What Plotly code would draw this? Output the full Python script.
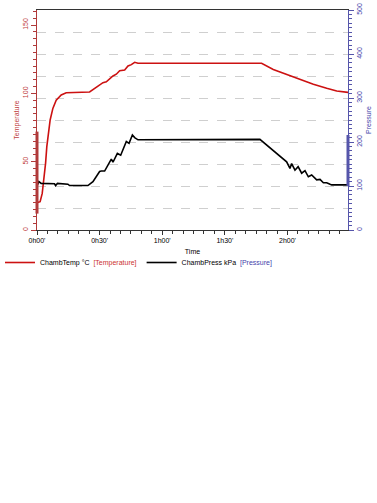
import plotly.graph_objects as go

# --- data (time in minutes) ---
temp_time = [0, 1.5, 2.5, 3.3, 4.1, 4.7, 5.5, 6.3, 7.6, 9.2, 11.6, 14.0, 25.2, 28.4,
             31.6, 33.2, 36.4, 38.0, 39.6, 42.0, 43.6, 45.2, 46.8, 48.4, 107.6, 113.2,
             119.6, 126.0, 132.4, 138.8, 143.6, 149.0]
temp_vals = [20, 20.7, 26.8, 36.6, 48.8, 61, 70.7, 80.5, 89, 95, 98.8, 100.4, 101, 104.4,
             107.8, 108.5, 112.7, 114, 116.5, 117, 120, 121, 122.7, 122, 122, 117.5,
             114, 110, 106.6, 103.7, 101.7, 100.7]

press_time = [0, 0.9, 2.0, 8.4, 8.9, 9.8, 14.8, 15.6, 24.4, 26.8, 30.0, 30.8, 32.4, 34.0,
              35.6, 36.4, 38.5, 40.1, 42.0, 42.8, 44.1, 45.7, 46.8, 48.4, 106.8, 119.6,
              121.2, 122.0, 123.6, 125.1, 126.8, 128.4, 130.0, 131.6, 134.0, 135.6, 137.2,
              138.8, 140.4, 141.2, 149.0]
press_vals = [100, 110, 106, 105, 101, 106, 104, 101, 101, 110, 133, 134, 134, 148,
              161, 154, 174, 170, 192, 201, 197, 216, 210, 205, 206, 155,
              140, 151, 136, 144, 129, 135, 121, 125, 114, 115, 107.5,
              107.5, 104, 102.5, 102.5]

x_tickvals = [0, 30, 60, 90, 120]
x_ticktext = ["0h00'", "0h30'", "1h00'", "1h30'", "2h00'"]

temp_range = [0, 161]
press_range = [0, 500]
temp_marker_range = [12, 72]

RED = "#cc1111"
RED_AX = "#b03a3a"
BLUE_AX = "#5555aa"
FONT = "Liberation Sans, Arial, sans-serif"

fig = go.Figure()
fig.add_trace(go.Scatter(
    x=temp_time, y=temp_vals, mode="lines", name="ChambTemp °C  <span style='color:#cc3333'>[Temperature]</span>",
    line=dict(color=RED, width=1.6), yaxis="y"))
fig.add_trace(go.Scatter(
    x=press_time, y=press_vals, mode="lines", name="ChambPress kPa  <span style='color:#4444aa'>[Pressure]</span>",
    line=dict(color="#000000", width=1.6), yaxis="y2"))
# helper trace for the dashed grid axis
fig.add_trace(go.Scatter(x=[None], y=[None], yaxis="y3", showlegend=False, hoverinfo="skip"))

# axis data-range markers
fig.add_shape(type="line", xref="paper", yref="y", x0=0, x1=0,
              y0=temp_marker_range[0], y1=temp_marker_range[1],
              line=dict(color=RED_AX, width=3))
fig.add_shape(type="line", xref="paper", yref="y2", x0=1, x1=1,
              y0=min(press_vals), y1=max(press_vals),
              line=dict(color=BLUE_AX, width=3))

fig.update_layout(
    width=377, height=503,
    margin=dict(l=37, r=29, t=10, b=273, autoexpand=False),
    paper_bgcolor="white", plot_bgcolor="white",
    font=dict(family=FONT, size=7, color="#000"),
    xaxis=dict(
        range=[0, 149], tickmode="array", tickvals=x_tickvals, ticktext=x_ticktext,
        ticks="outside", ticklen=4, tickcolor="#333", showline=True, linecolor="#333",
        linewidth=1, mirror=True, showgrid=False, zeroline=False, automargin=False,
        tickfont=dict(size=7, family=FONT),
        minor=dict(dtick=5, tick0=0, ticks="outside", ticklen=3, tickcolor="#333", showgrid=False),
        title=dict(text="Time", font=dict(size=7), standoff=5),
    ),
    yaxis=dict(
        range=temp_range, dtick=50, tick0=0, ticks="outside", ticklen=5, tickcolor=RED_AX,
        showline=True, linecolor=RED_AX, linewidth=1, showgrid=False, zeroline=False,
        automargin=False,
        tickangle=-90, tickfont=dict(size=7, color="#c04040", family=FONT),
        minor=dict(dtick=5, tick0=0, ticks="outside", ticklen=3, tickcolor=RED_AX, showgrid=False),
        title=dict(text="Temperature", font=dict(size=7, color="#c04040"), standoff=1),
    ),
    yaxis2=dict(
        range=press_range, dtick=100, tick0=0, overlaying="y", side="right", anchor="x",
        ticks="outside", ticklen=5, tickcolor=BLUE_AX, showline=True, linecolor=BLUE_AX,
        linewidth=1, showgrid=False, zeroline=False, tickangle=-90, automargin=False,
        tickfont=dict(size=7, color="#4444aa", family=FONT),
        minor=dict(dtick=10, tick0=0, ticks="outside", ticklen=3, tickcolor=BLUE_AX, showgrid=False),
        title=dict(text="Pressure", font=dict(size=7, color="#4444aa"), standoff=3),
    ),
    yaxis3=dict(
        range=press_range, dtick=50, tick0=0, overlaying="y", side="right", anchor="x",
        showgrid=True, gridcolor="#cfcfcf", griddash="dash", gridwidth=1, automargin=False,
        showticklabels=False, ticks="", showline=False, zeroline=False,
    ),
    legend=dict(
        orientation="h", xref="container", yref="container",
        x=0.0, y=1 - 248 / 503, xanchor="left", yanchor="top",
        font=dict(size=7, family=FONT), itemwidth=30, tracegroupgap=0,
        bgcolor="rgba(0,0,0,0)",
    ),
    showlegend=True,
)

fig.write_html("out.html", config={"displayModeBar": False},
               post_script="document.body.style.margin='0';document.body.style.padding='0';")
